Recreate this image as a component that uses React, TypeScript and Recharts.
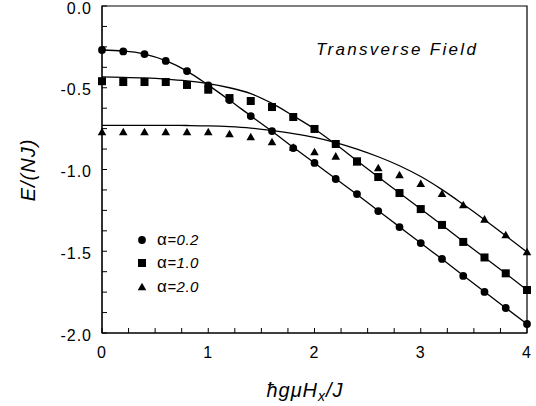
import { ComposedChart, Line, Scatter, XAxis, YAxis, ReferenceArea, Legend } from 'recharts';

const fieldValues = [0, 0.2, 0.4, 0.6, 0.8, 1.0, 1.2, 1.4, 1.6, 1.8, 2.0, 2.2, 2.4, 2.6, 2.8, 3.0, 3.2, 3.4, 3.6, 3.8, 4.0];

// measured points
const alpha02Points = [-0.269, -0.278, -0.294, -0.336, -0.398, -0.485, -0.575, -0.673, -0.765, -0.869, -0.960, -1.058, -1.150, -1.254, -1.352, -1.450, -1.547, -1.651, -1.749, -1.847, -1.945];
const alpha10Points = [-0.460, -0.465, -0.465, -0.465, -0.483, -0.512, -0.563, -0.581, -0.618, -0.679, -0.752, -0.844, -0.950, -1.046, -1.144, -1.242, -1.339, -1.443, -1.538, -1.635, -1.737];
const alpha20Points = [-0.771, -0.771, -0.771, -0.771, -0.771, -0.771, -0.783, -0.801, -0.832, -0.865, -0.893, -0.920, -0.955, -0.991, -1.034, -1.087, -1.148, -1.217, -1.305, -1.401, -1.505];

// theory curves
const alpha02Curve = [-0.269, -0.275, -0.294, -0.334, -0.398, -0.484, -0.576, -0.672, -0.766, -0.864, -0.960, -1.057, -1.153, -1.252, -1.351, -1.450, -1.548, -1.648, -1.748, -1.847, -1.945];
const alpha10Curve = [-0.434, -0.436, -0.440, -0.447, -0.458, -0.475, -0.500, -0.536, -0.596, -0.672, -0.752, -0.846, -0.947, -1.046, -1.144, -1.242, -1.340, -1.440, -1.538, -1.636, -1.737];
const alpha20Curve = [-0.730, -0.730, -0.730, -0.730, -0.731, -0.733, -0.738, -0.747, -0.762, -0.780, -0.803, -0.835, -0.875, -0.922, -0.977, -1.043, -1.123, -1.213, -1.307, -1.405, -1.505];

const xTicks = [0, 0.25, 0.5, 0.75, 1, 1.25, 1.5, 1.75, 2, 2.25, 2.5, 2.75, 3, 3.25, 3.5, 3.75, 4];
const yTicks = [-2, -1.875, -1.75, -1.625, -1.5, -1.375, -1.25, -1.125, -1, -0.875, -0.75, -0.625, -0.5, -0.375, -0.25, -0.125, 0];
const alphaLabels = ['=0.2', '=1.0', '=2.0'];

const font = '"Liberation Sans", Arial, sans-serif';

const toPoints = (ys: number[]) => fieldValues.map((x, i) => ({ x, y: ys[i] }));

const Dot = (p: any) => <circle cx={p.cx} cy={p.cy} r={3.9} fill="#000" />;
const Square = (p: any) => <rect x={p.cx - 4} y={p.cy - 4} width={8} height={8} fill="#000" />;
const Tri = (p: any) => (
    <path d={`M${p.cx},${p.cy - 4.3} L${p.cx + 4.3},${p.cy + 3.3} L${p.cx - 4.3},${p.cy + 3.3} Z`} fill="#000" />
);
const markers = [Dot, Square, Tri];

const LegendBox = () => (
    <div style={{ fontFamily: font, fontSize: 15, color: '#000' }}>
        {alphaLabels.map((label, i) => {
            const Marker = markers[i];
            return (
                <div key={label} style={{ display: 'flex', alignItems: 'center', height: 23.5 }}>
                    <svg width={10} height={10} style={{ overflow: 'visible' }}>
                        <Marker cx={5} cy={5} />
                    </svg>
                    <span style={{ marginLeft: 10, letterSpacing: 0.5 }}>
                        <span style={{ fontSize: 17 }}>α</span><i>{label}</i>
                    </span>
                </div>
            );
        })}
    </div>
);

const App = () => {
    const tickStyle = { fill: '#000', fontSize: 16, fontFamily: font, letterSpacing: 1 };

    return (
        <div style={{ position: 'absolute', left: 0, top: 0, background: '#fff' }}>
            <ComposedChart width={536} height={406} margin={{ top: 6, right: 9, bottom: 0, left: 0 }}>
                <XAxis
                    type="number"
                    dataKey="x"
                    domain={[0, 4]}
                    ticks={xTicks}
                    interval={0}
                    height={73}
                    tickSize={-5}
                    tickMargin={19}
                    stroke="#000"
                    tick={tickStyle}
                    tickFormatter={(v: number) => (Number.isInteger(v) ? String(v) : '')}
                    label={{
                        content: () => (
                            <text x={305} y={397} textAnchor="middle" fontFamily={font} fontSize={20} fontStyle="italic" letterSpacing={1} fill="#000">
                                ħgμH<tspan fontSize={14} dy={4}>x</tspan><tspan dy={-4}>/J</tspan>
                            </text>
                        ),
                    }}
                />
                <YAxis
                    type="number"
                    dataKey="y"
                    domain={[-2, 0]}
                    ticks={yTicks}
                    interval={0}
                    width={102}
                    tickSize={-5}
                    tickMargin={15}
                    stroke="#000"
                    tick={{ ...tickStyle, dy: 2 }}
                    tickFormatter={(v: number) => (Math.abs(v * 2 - Math.round(v * 2)) < 1e-6 ? v.toFixed(1) : '')}
                    label={{
                        content: () => (
                            <text x={28} y={170} transform="rotate(-90, 28, 170)" textAnchor="middle" dominantBaseline="central" fontFamily={font} fontSize={20} fontStyle="italic" letterSpacing={1} fill="#000">
                                E/(NJ)
                            </text>
                        ),
                    }}
                />
                <ReferenceArea
                    x1={0}
                    x2={4}
                    y1={-2}
                    y2={0}
                    fill="none"
                    stroke="#000"
                    strokeWidth={1.2}
                    label={{
                        content: () => (
                            <text x={316} y={55} fontFamily={font} fontSize={17} fontStyle="italic" letterSpacing={2.3} fill="#000">
                                Transverse Field
                            </text>
                        ),
                    }}
                />
                <Line data={toPoints(alpha02Curve)} dataKey="y" type="monotone" stroke="#000" strokeWidth={1.3} dot={false} isAnimationActive={false} legendType="none" />
                <Line data={toPoints(alpha10Curve)} dataKey="y" type="monotone" stroke="#000" strokeWidth={1.3} dot={false} isAnimationActive={false} legendType="none" />
                <Line data={toPoints(alpha20Curve)} dataKey="y" type="monotone" stroke="#000" strokeWidth={1.3} dot={false} isAnimationActive={false} legendType="none" />
                <Scatter data={toPoints(alpha02Points)} dataKey="y" shape={Dot} isAnimationActive={false} />
                <Scatter data={toPoints(alpha10Points)} dataKey="y" shape={Square} isAnimationActive={false} />
                <Scatter data={toPoints(alpha20Points)} dataKey="y" shape={Tri} isAnimationActive={false} />
                <Legend
                    layout="vertical"
                    align="center"
                    verticalAlign="middle"
                    content={LegendBox}
                    wrapperStyle={{ left: 137, top: 228, width: 'auto' }}
                />
            </ComposedChart>
        </div>
    );
};

export default App;
